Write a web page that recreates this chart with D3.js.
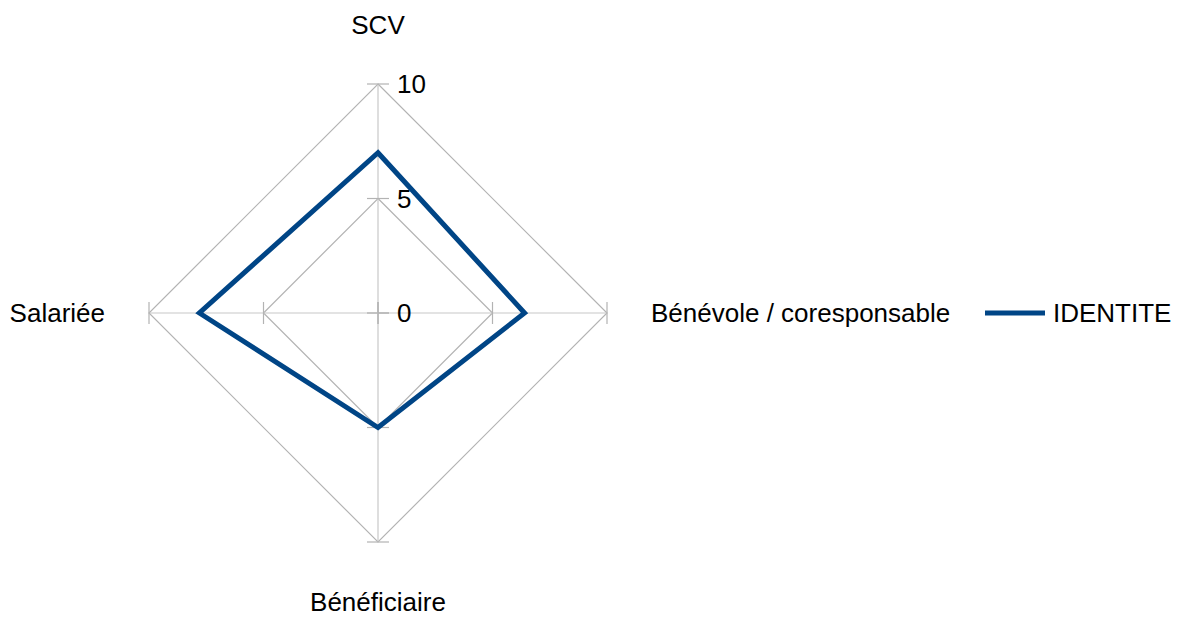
<!DOCTYPE html>
<html lang="fr">
<head>
  <meta charset="UTF-8">
  <title>IDENTITE</title>
  <style>
    body { margin: 0; background: #fff; overflow: hidden; }
    text { font-family: 'Liberation Sans', Arial, sans-serif; fill: #000; }
    .grid { fill: none; stroke: #b3b3b3; stroke-width: 1.2px; }
    .axis { stroke: #c8c8c8; stroke-width: 1.2px; }
    .tick { stroke: #b3b3b3; stroke-width: 1.2px; }
  </style>
</head>
<body>
  <svg id="chart" width="1183" height="618"></svg>
  <script src="https://cdn.jsdelivr.net/npm/d3@7"></script>
  <script>
    // Données
    const categories = ['SCV', 'Bénévole / coresponsable', 'Bénéficiaire', 'Salariée'];
    const seriesName = 'IDENTITE';
    const values = [7, 6.4, 5, 7.8];
    const ticks = [0, 5, 10];

    const cx = 378, cy = 313, radius = 229;
    const fs = 26;
    const svg = d3.select('#chart');
    const r = d3.scaleLinear().domain([0, 10]).range([0, radius]);
    const angle = i => -Math.PI / 2 + i * 2 * Math.PI / categories.length;
    const pt = (i, v) => [cx + r(v) * Math.cos(angle(i)), cy + r(v) * Math.sin(angle(i))];

    // Gitter
    ticks.filter(t => t > 0).forEach(t => {
      svg.append('path').attr('class', 'grid')
        .attr('d', d3.line()(categories.map((c, i) => pt(i, t))) + 'Z');
    });

    categories.forEach((c, i) => {
      const [x, y] = pt(i, 10);
      svg.append('line').attr('class', 'axis')
        .attr('x1', cx).attr('y1', cy).attr('x2', x).attr('y2', y);
      // Ticks senkrecht zur Achse
      ticks.forEach(t => {
        const [tx, ty] = pt(i, t);
        const a = angle(i) + Math.PI / 2, L = 11;
        svg.append('line').attr('class', 'tick')
          .attr('x1', tx - L * Math.cos(a)).attr('y1', ty - L * Math.sin(a))
          .attr('x2', tx + L * Math.cos(a)).attr('y2', ty + L * Math.sin(a));
      });
    });

    // Achsenbeschriftung
    ticks.forEach(t => {
      svg.append('text')
        .attr('x', cx + 19).attr('y', cy - r(t) + 9)
        .attr('font-size', fs)
        .text(t);
    });

    // Kategorien
    const labelPos = [
      { x: cx, y: 34, anchor: 'middle' },
      { x: 651, y: cy + 9, anchor: 'start' },
      { x: cx, y: 611, anchor: 'middle' },
      { x: 105, y: cy + 9, anchor: 'end' }
    ];
    categories.forEach((c, i) => {
      svg.append('text')
        .attr('x', labelPos[i].x).attr('y', labelPos[i].y)
        .attr('text-anchor', labelPos[i].anchor)
        .attr('font-size', fs)
        .text(c);
    });

    // Serie
    svg.append('path')
      .attr('d', d3.line()(values.map((v, i) => pt(i, v))) + 'Z')
      .attr('fill', 'none')
      .attr('stroke', '#004586')
      .attr('stroke-width', 5)
      .attr('stroke-linejoin', 'miter');

    // Legende
    svg.append('line')
      .attr('x1', 985).attr('x2', 1045).attr('y1', cy).attr('y2', cy)
      .attr('stroke', '#004586').attr('stroke-width', 5);
    svg.append('text')
      .attr('x', 1053).attr('y', cy + 9)
      .attr('font-size', fs)
      .text(seriesName);
  </script>
</body>
</html>
